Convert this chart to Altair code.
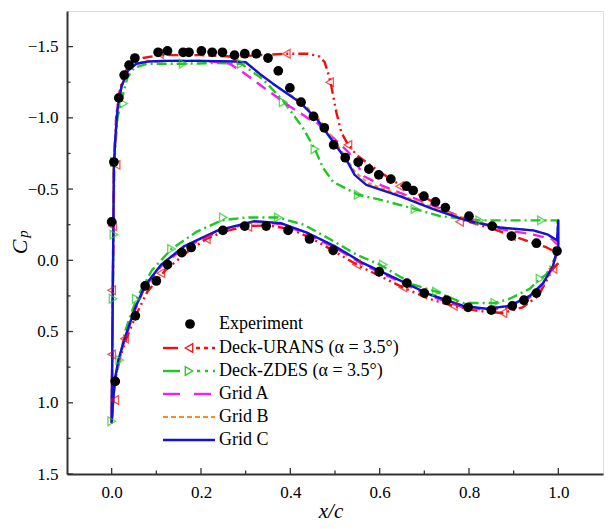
import altair as alt
import pandas as pd

# ---------------- data ----------------
# Experiment
exp_x = [0.000, 0.005, 0.016, 0.028, 0.039, 0.052, 0.104, 0.125, 0.160, 0.173, 0.201, 0.225,
         0.248, 0.275, 0.298, 0.324, 0.350, 0.373, 0.399, 0.424, 0.452, 0.476, 0.497, 0.523,
         0.552, 0.576, 0.598, 0.625, 0.660, 0.675, 0.699, 0.725, 0.747, 0.800, 0.852, 0.895,
         0.951, 0.997,
         0.008, 0.053, 0.075, 0.100, 0.125, 0.157, 0.178, 0.249, 0.298, 0.346, 0.395, 0.443,
         0.496, 0.599, 0.661, 0.700, 0.750, 0.798, 0.850, 0.897, 0.923, 0.951]
exp_cp = [-0.27, -0.69, -1.14, -1.30, -1.37, -1.42, -1.46, -1.47, -1.46, -1.46, -1.47, -1.46,
          -1.46, -1.44, -1.45, -1.45, -1.42, -1.33, -1.21, -1.11, -1.01, -0.93, -0.81, -0.72,
          -0.69, -0.64, -0.60, -0.57, -0.52, -0.49, -0.45, -0.41, -0.37, -0.31, -0.24, -0.17,
          -0.12, -0.065,
          0.85, 0.39, 0.18, 0.145, 0.03, -0.054, -0.09, -0.21, -0.24, -0.24, -0.21, -0.15,
          -0.07, 0.08, 0.16, 0.23, 0.28, 0.33, 0.35, 0.32, 0.28, 0.23]

# Grid C (blue)
c_up_x = [0.000, 0.002, 0.005, 0.008, 0.013, 0.022, 0.036, 0.055, 0.080, 0.120, 0.200, 0.280,
          0.300, 0.331, 0.361, 0.421, 0.460, 0.496, 0.515, 0.530, 0.544, 0.570, 0.645, 0.720,
          0.794, 0.869, 0.944, 0.977, 0.997, 1.000, 1.000]
c_up_cp = [1.14, 0.40, -0.66, -0.85, -1.06, -1.22, -1.33, -1.38, -1.395, -1.40, -1.40, -1.395,
           -1.39, -1.31, -1.24, -1.11, -0.99, -0.83, -0.75, -0.68, -0.60, -0.53, -0.45, -0.36,
           -0.28, -0.23, -0.21, -0.18, -0.14, -0.28, -0.08]
c_lo_x = [0.998, 0.988, 0.966, 0.936, 0.891, 0.839, 0.787, 0.712, 0.638, 0.563, 0.499, 0.440,
          0.380, 0.320, 0.238, 0.163, 0.111, 0.074, 0.052, 0.029, 0.015, 0.007, 0.003, 0.000]
c_lo_cp = [-0.08, 0.04, 0.16, 0.25, 0.32, 0.34, 0.32, 0.24, 0.13, 0.02, -0.10, -0.19,
           -0.26, -0.275, -0.21, -0.10, 0.03, 0.18, 0.34, 0.55, 0.70, 0.84, 1.00, 1.14]

# Grid B (orange)
b_up_x = [0.000, 0.002, 0.005, 0.008, 0.013, 0.022, 0.036, 0.055, 0.080, 0.120, 0.200, 0.280,
          0.300, 0.335, 0.370, 0.425, 0.462, 0.498, 0.520, 0.545, 0.575, 0.645, 0.720, 0.794,
          0.869, 0.944, 0.977, 0.997]
b_up_cp = [1.14, 0.40, -0.66, -0.85, -1.06, -1.22, -1.33, -1.38, -1.395, -1.40, -1.40, -1.395,
           -1.39, -1.30, -1.22, -1.11, -1.00, -0.84, -0.74, -0.62, -0.54, -0.46, -0.37,
           -0.29, -0.23, -0.21, -0.18, -0.13]
b_lo_x = c_lo_x
b_lo_cp = c_lo_cp

# Grid A (magenta)
a_up_x = [0.000, 0.002, 0.005, 0.008, 0.013, 0.022, 0.036, 0.055, 0.080, 0.120, 0.200, 0.250,
          0.264, 0.294, 0.346, 0.399, 0.443, 0.458, 0.496, 0.530, 0.548, 0.565, 0.608, 0.682,
          0.794, 0.869, 0.944, 0.985, 0.998]
a_up_cp = [1.14, 0.40, -0.66, -0.85, -1.06, -1.22, -1.33, -1.38, -1.395, -1.40, -1.40, -1.39,
           -1.38, -1.32, -1.20, -1.08, -0.99, -0.97, -0.86, -0.76, -0.68, -0.59, -0.52, -0.43,
           -0.29, -0.22, -0.18, -0.15, -0.11]
a_lo_x = c_lo_x
a_lo_cp = [-0.07, 0.05, 0.17, 0.26, 0.33, 0.35, 0.33, 0.25, 0.14, 0.03, -0.09, -0.18,
           -0.255, -0.27, -0.20, -0.09, 0.04, 0.19, 0.35, 0.56, 0.71, 0.85, 1.00, 1.14]

# Deck-URANS (red)
r_up_x = [0.000, 0.002, 0.005, 0.010, 0.016, 0.025, 0.035, 0.050, 0.070, 0.107, 0.200, 0.272,
          0.330, 0.391, 0.440, 0.466, 0.477, 0.484, 0.490, 0.503, 0.514, 0.526, 0.540, 0.552,
          0.600, 0.645, 0.720, 0.779, 0.854, 0.899, 0.974, 0.998]
r_up_cp = [1.14, 0.40, -0.66, -1.00, -1.16, -1.28, -1.35, -1.40, -1.42, -1.44, -1.44, -1.43,
           -1.44, -1.45, -1.45, -1.43, -1.39, -1.32, -1.25, -1.04, -0.90, -0.83, -0.77, -0.73,
           -0.62, -0.53, -0.41, -0.29, -0.22, -0.17, -0.09, -0.05]
r_lo_x = [1.000, 0.988, 0.955, 0.920, 0.876, 0.820, 0.765, 0.710, 0.652, 0.600, 0.548, 0.500,
          0.450, 0.400, 0.350, 0.300, 0.250, 0.212, 0.170, 0.120, 0.080, 0.055, 0.033, 0.015,
          0.007, 0.003, 0.000]
r_lo_cp = [0.02, 0.06, 0.25, 0.33, 0.37, 0.355, 0.32, 0.27, 0.19, 0.11, 0.03, -0.06,
           -0.15, -0.22, -0.245, -0.24, -0.20, -0.15, -0.06, 0.07, 0.22, 0.38, 0.55, 0.72,
           0.86, 1.00, 1.14]

# Deck-ZDES (green)
g_up_x = [0.000, 0.002, 0.004, 0.006, 0.013, 0.025, 0.035, 0.050, 0.080, 0.160, 0.240, 0.290,
          0.339, 0.384, 0.428, 0.455, 0.473, 0.496, 0.552, 0.608, 0.679, 0.735, 0.824, 0.899,
          0.962, 0.998]
g_up_cp = [1.13, 0.50, -0.20, -0.69, -1.00, -1.16, -1.28, -1.35, -1.38, -1.38, -1.385, -1.38,
           -1.27, -1.12, -0.93, -0.78, -0.65, -0.55, -0.46, -0.42, -0.36, -0.31, -0.28, -0.28,
           -0.28, -0.28]
g_lo_x = [1.000, 0.990, 0.973, 0.959, 0.936, 0.891, 0.858, 0.832, 0.787, 0.727, 0.675, 0.600,
          0.548, 0.488, 0.430, 0.373, 0.298, 0.246, 0.190, 0.134, 0.090, 0.059, 0.045, 0.029,
          0.018, 0.010, 0.005, 0.000]
g_lo_cp = [-0.06, 0.00, 0.10, 0.13, 0.20, 0.27, 0.30, 0.30, 0.30, 0.22, 0.17, 0.03,
           -0.04, -0.15, -0.25, -0.30, -0.30, -0.28, -0.20, -0.08, 0.07, 0.25, 0.36, 0.51,
           0.70, 0.81, 0.92, 1.13]

# marker positions
r_mk_x = [0.002, 0.010, 0.000, 0.000, 0.007, 0.107, 0.272, 0.391, 0.488, 0.529, 0.645, 0.779,
          0.895, 0.029, 0.110, 0.212, 0.305, 0.548, 0.652, 0.765, 0.876, 0.988]
r_mk_cp = [-0.24, -0.67, 0.21, 0.66, 0.98, -1.45, -1.43, -1.45, -1.25, -0.81, -0.52, -0.27,
           -0.17, 0.55, 0.09, -0.15, -0.235, 0.03, 0.19, 0.32, 0.37, 0.06]
g_mk_x = [0.005, 0.006, 0.027, 0.160, 0.290, 0.384, 0.455, 0.552, 0.679, 0.824, 0.962,
          0.003, 0.000, 0.018, 0.055, 0.134, 0.250, 0.373, 0.608, 0.727, 0.858, 0.959]
g_mk_cp = [-0.18, -0.69, -1.10, -1.38, -1.38, -1.11, -0.78, -0.46, -0.36, -0.28, -0.28,
           0.27, 1.13, 0.70, 0.27, -0.08, -0.30, -0.30, 0.03, 0.22, 0.30, 0.13]

x_major = [0.0, 0.2, 0.4, 0.6, 0.8, 1.0]
x_minor = [0.1, 0.3, 0.5, 0.7, 0.9]
y_major = [-1.5, -1.0, -0.5, 0.0, 0.5, 1.0, 1.5]
y_minor = [-1.25, -0.75, -0.25, 0.25, 0.75, 1.25]

legend_labels = ["Experiment", "Deck-URANS (\u03b1 = 3.5\u00b0)", "Deck-ZDES (\u03b1 = 3.5\u00b0)",
                 "Grid A", "Grid B", "Grid C"]

# ---------------- chart ----------------
W, H = 536, 463
FONT = "Liberation Serif"
RED, GREEN, MAG, ORANGE, BLUE = "#f01010", "#1ec81e", "#f020f0", "#ff8c1a", "#1212d8"

xs = alt.Scale(domain=[-0.1, 1.1], nice=False, zero=False)
ys = alt.Scale(domain=[-1.75, 1.5], reverse=True, nice=False, zero=False)

xax = alt.Axis(values=x_major, format=".1f", title=None, grid=False, ticks=False,
               labelPadding=10, labelFont=FONT, labelFontSize=17, labelColor="black",
               domainColor="#333", domainWidth=2)
yax = alt.Axis(values=y_major, format=".1f", title=None, grid=False, ticks=False,
               labelPadding=9, labelFont=FONT, labelFontSize=17, labelColor="black",
               domainColor="#333", domainWidth=2)


def X(f):
    return alt.X(f, scale=xs, axis=xax)


def Y(f):
    return alt.Y(f, scale=ys, axis=yax)


def path_df(xv, cv):
    return pd.DataFrame({"x": xv, "cp": cv, "i": list(range(len(xv)))})


def line(df, color, width, dash=None):
    kw = dict(color=color, strokeWidth=width, strokeJoin="round")
    if dash:
        kw["strokeDash"] = dash
    return alt.Chart(df).mark_line(**kw).encode(x=X("x:Q"), y=Y("cp:Q"), order="i:Q")


def xticks(vals, length):
    return alt.Chart(pd.DataFrame({"x": vals})).mark_rule(color="#333", strokeWidth=1.3).encode(
        x=X("x:Q"), y=alt.value(H), y2=alt.value(H - length))


def yticks(vals, length):
    return alt.Chart(pd.DataFrame({"cp": vals})).mark_rule(color="#333", strokeWidth=1.3).encode(
        y=Y("cp:Q"), x=alt.value(0), x2=alt.value(length))


red_line = line(path_df(r_lo_x + r_up_x, r_lo_cp + r_up_cp), RED, 2.4, [10, 4, 2, 4, 2, 4])
green_line = line(path_df(g_up_x + g_lo_x, g_up_cp + g_lo_cp), GREEN, 2.4, [10, 4, 2, 4])
mag_line = line(path_df(a_lo_x + a_up_x, a_lo_cp + a_up_cp), MAG, 2.4, [11, 7])
orange_line = line(path_df(b_lo_x + b_up_x, b_lo_cp + b_up_cp), ORANGE, 2.2, [4, 3])
blue_line = line(path_df(c_up_x + c_lo_x, c_up_cp + c_lo_cp), BLUE, 2.4)

red_mk = alt.Chart(pd.DataFrame({"x": r_mk_x, "cp": r_mk_cp})).mark_point(
    shape="triangle-left", filled=False, color=RED, size=75, strokeWidth=1.3).encode(
    x=X("x:Q"), y=Y("cp:Q"))
green_mk = alt.Chart(pd.DataFrame({"x": g_mk_x, "cp": g_mk_cp})).mark_point(
    shape="triangle-right", filled=False, color=GREEN, size=75, strokeWidth=1.3).encode(
    x=X("x:Q"), y=Y("cp:Q"))

exp_pts = alt.Chart(pd.DataFrame({"x": exp_x, "cp": exp_cp})).mark_circle(
    color="black", size=95, opacity=1).encode(x=X("x:Q"), y=Y("cp:Q"))

# ---------- legend (drawn manually inside the plot) ----------
one = pd.DataFrame({"a": [0]})
rows_y = [313, 337, 360, 383, 406, 429]
LX0, LX1, TX = 96, 148, 152


def seg(x0, x1, y, color, width, dash=None):
    kw = dict(color=color, strokeWidth=width)
    if dash:
        kw["strokeDash"] = dash
    return alt.Chart(one).mark_rule(**kw).encode(x=alt.value(x0), x2=alt.value(x1), y=alt.value(y))


def sym(x, y, shape, color, size, filled):
    return alt.Chart(one).mark_point(shape=shape, filled=filled, color=color, size=size,
                                     strokeWidth=1.3, opacity=1).encode(
        x=alt.value(x), y=alt.value(y))


leg = [
    sym(123, rows_y[0], "circle", "black", 95, True),
    seg(LX0, 111, rows_y[1], RED, 2.4), sym(122, rows_y[1], "triangle-left", RED, 75, False),
    seg(129, LX1, rows_y[1], RED, 2.4, [4, 4]),
    seg(LX0, 113, rows_y[2], GREEN, 2.4), sym(122, rows_y[2], "triangle-right", GREEN, 75, False),
    seg(130, LX1, rows_y[2], GREEN, 2.4, [3, 5]),
    seg(LX0, 113, rows_y[3], MAG, 2.4), seg(127, 144, rows_y[3], MAG, 2.4),
    seg(LX0, LX1, rows_y[4], ORANGE, 2.2, [5, 3]),
    seg(LX0, LX1, rows_y[5], BLUE, 2.6),
]
leg_text = alt.Chart(pd.DataFrame({"t": legend_labels, "yy": rows_y})).mark_text(
    align="left", baseline="middle", font=FONT, fontSize=18, color="black").encode(
    x=alt.value(TX), y=alt.Y("yy:Q", scale=None), text="t:N")

# ---------- axis titles ----------
t_C = alt.Chart(pd.DataFrame({"t": ["C"]})).mark_text(
    font=FONT, fontSize=22, fontStyle="italic", angle=270, align="center", baseline="middle",
    color="black").encode(x=alt.value(-47), y=alt.value(236), text="t:N")
t_p = alt.Chart(pd.DataFrame({"t": ["p"]})).mark_text(
    font=FONT, fontSize=15, fontStyle="italic", angle=270, align="center", baseline="middle",
    color="black").encode(x=alt.value(-44), y=alt.value(223), text="t:N")
t_x = alt.Chart(pd.DataFrame({"t": ["x/c"]})).mark_text(
    font=FONT, fontSize=21, fontStyle="italic", align="center", baseline="middle",
    color="black").encode(x=alt.value(264), y=alt.value(501), text="t:N")

chart = alt.layer(
    xticks(x_major, 6), xticks(x_minor, 3.5), yticks(y_major, 6), yticks(y_minor, 3.5),
    red_line, green_line, mag_line, orange_line, blue_line,
    red_mk, green_mk, exp_pts,
    *leg, leg_text, t_C, t_p, t_x,
).properties(
    width=W, height=H,
    padding={"left": 59, "top": 3, "right": 5, "bottom": 55},
    autosize=alt.AutoSizeParams(type="none"),
).configure_view(stroke="#333", strokeWidth=1.3).configure(background="white")

chart.save("out.html", embed_options={"renderer": "svg", "actions": False})
